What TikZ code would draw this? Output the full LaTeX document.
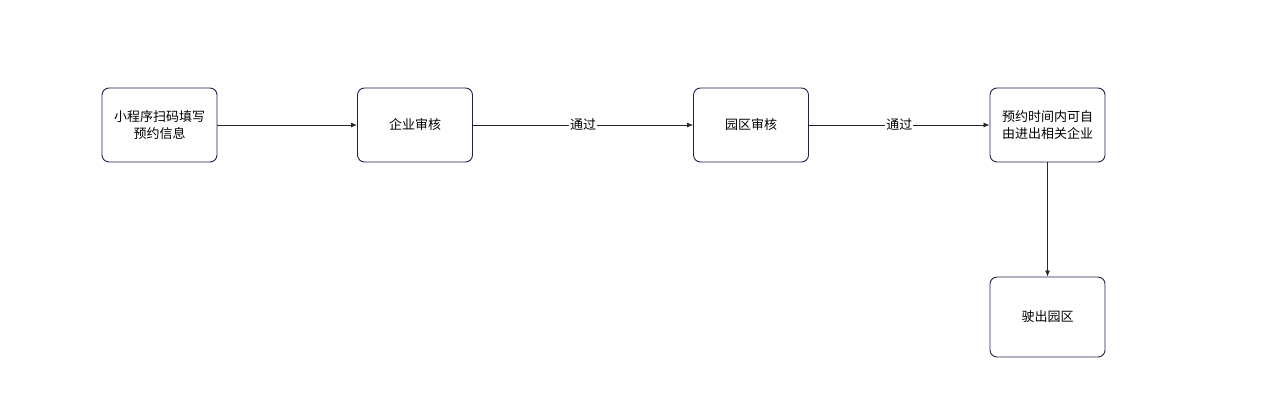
\documentclass[tikz,border=0pt]{standalone}
\usepackage{fontspec}
\setmainfont{Noto Sans CJK SC}
\usetikzlibrary{arrows.meta}
\definecolor{bd}{HTML}{1F1F4D}
\begin{document}
\begin{tikzpicture}[x=1pt,y=-1pt,
  box/.style={draw=bd,line width=0.9pt,rounded corners=7pt,minimum width=115pt,minimum height=74pt,align=center,font=\fontsize{13}{17}\selectfont,inner sep=1pt,text width=110pt},
  conn/.style={draw=black!85,line width=0.8pt,-{Latex[length=6pt,width=5pt]}},
  lbl/.style={fill=white,inner sep=1pt,font=\fontsize{13}{15}\selectfont}]
\useasboundingbox (0,0) rectangle (1268,409);
\node[box] (a) at (159.5,125) {小程序扫码填写\\预约信息};
\node[box] (b) at (415,125) {企业审核};
\node[box] (c) at (751,125) {园区审核};
\node[box] (d) at (1047.5,125) {预约时间内可自\\由进出相关企业};
\node[box,minimum height=80pt] (e) at (1047.5,317) {驶出园区};
\draw[conn] (a) -- (b);
\draw[conn] (b) -- node[lbl]{通过} (c);
\draw[conn] (c) -- node[lbl]{通过} (d);
\draw[conn] (d) -- (e);
\end{tikzpicture}
\end{document}
